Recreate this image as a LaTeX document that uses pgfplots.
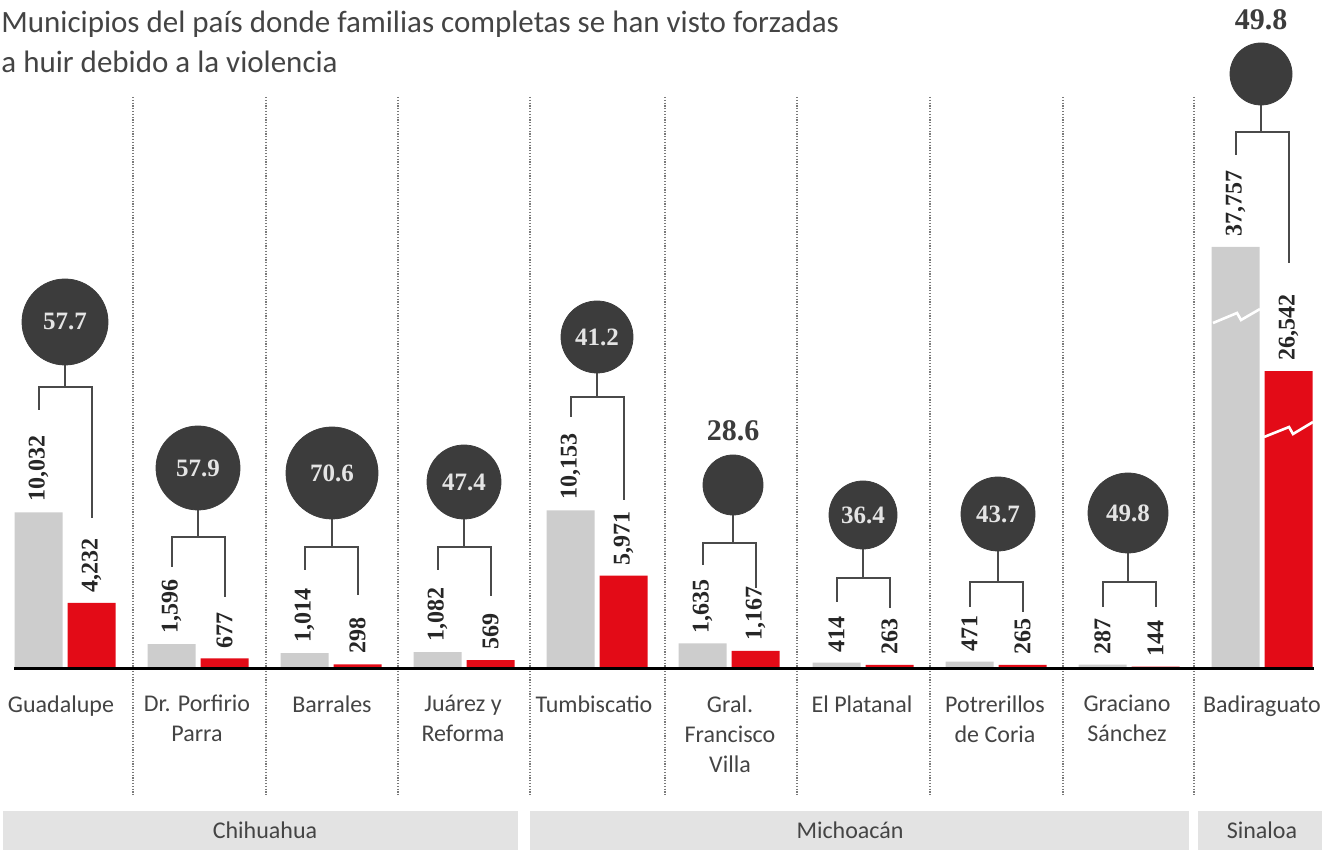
\documentclass[border=0pt]{standalone}
\usepackage{fontspec}
\usepackage{pgfplots}
\pgfplotsset{compat=1.18}
\usepackage{pgfplotstable}
\newfontfamily\carl{Carlito}
\newfontfamily\numf{Liberation Serif}
\definecolor{barGrey}{HTML}{CDCDCD}
\definecolor{barRed}{HTML}{E30B17}
\definecolor{circ}{HTML}{3C3C3C}
\definecolor{circtxt}{HTML}{E4E4E4}
\definecolor{band}{HTML}{E3E3E3}
\definecolor{brk}{HTML}{4A4A4A}
\definecolor{txt}{HTML}{444444}
\definecolor{sep}{HTML}{7A7A7A}

\pgfplotstableread{
xc   grey  red   gshow rshow
65   10032 4232  10032 4232
198  1596  677   1596  677
331  1014  298   1014  298
464  1082  569   1082  569
597  10153 5971  10153 5971
729  1635  1167  1635  1167
863  414   263   414   263
996  471   265   471   265
1129 287   144   287   144
1262 37757 26542 27008 19072
}\data

\pgfplotstableread{
cx   cy  r  pct  ly  out
65   322 43 57.7 322 0
198  468 42 57.9 468 0
332  473 46 70.6 473 0
464  482 37 47.4 482 0
597  337 36 41.2 337 0
733  485 30 28.6 431 1
863  515 34 36.4 515 0
998  514 37 43.7 514 0
1128 513 40 49.8 513 0
1261 74  31 49.8 20  1
}\pcts

\begin{document}
\begin{tikzpicture}
\begin{axis}[
  width=668pt, height=425pt, scale only axis,
  xmin=0, xmax=1336, ymin=-181, ymax=669,
  hide axis, clip=false,
]
% full frame for the bounding box
\path (rel axis cs:0,0) rectangle (rel axis cs:1,1);
% state bands
\fill[band] (axis cs:3,-142) rectangle (axis cs:518,-181);
\fill[band] (axis cs:530,-142) rectangle (axis cs:1189,-181);
\fill[band] (axis cs:1198,-142) rectangle (axis cs:1322,-181);
\node[font=\carl\fontsize{12}{14}\selectfont, text=txt, anchor=base] at (axis cs:265,-170) {Chihuahua};
\node[font=\carl\fontsize{12}{14}\selectfont, text=txt, anchor=base] at (axis cs:850,-170) {Michoacán};
\node[font=\carl\fontsize{12}{14}\selectfont, text=txt, anchor=base] at (axis cs:1262,-170) {Sinaloa};
% separators
\pgfplotsinvokeforeach{133,266,398,530,665,797,930,1063,1194}{
  \draw[sep, line width=0.8pt, dash pattern=on 0.6pt off 0.8pt] (axis cs:#1,572) -- (axis cs:#1,-126);
}
% title
\node[anchor=north west, inner sep=0pt, align=left, font=\carl\fontsize{15.5}{20}\selectfont, text=txt] at (axis cs:1,658)
  {Municipios del país donde familias completas se han visto forzadas\\a huir debido a la violencia};
% brackets
\begin{scope}[brk, line width=1pt]
\draw (axis cs:65,347) -- (axis cs:65,282);
\draw (axis cs:38.5,259) -- (axis cs:38.5,282) -- (axis cs:91.5,282) -- (axis cs:91.5,151);
\draw (axis cs:198,201) -- (axis cs:198,132);
\draw (axis cs:171.5,102) -- (axis cs:171.5,132) -- (axis cs:224.5,132) -- (axis cs:224.5,72);
\draw (axis cs:332,196) -- (axis cs:332,122);
\draw (axis cs:304.5,99) -- (axis cs:304.5,122) -- (axis cs:357.5,122) -- (axis cs:357.5,74);
\draw (axis cs:464,187) -- (axis cs:464,122);
\draw (axis cs:437.5,99) -- (axis cs:437.5,122) -- (axis cs:490.5,122) -- (axis cs:490.5,73);
\draw (axis cs:597,332) -- (axis cs:597,272);
\draw (axis cs:570.5,252) -- (axis cs:570.5,272) -- (axis cs:623.5,272) -- (axis cs:623.5,169);
\draw (axis cs:733,184) -- (axis cs:733,126);
\draw (axis cs:702.5,104) -- (axis cs:702.5,126) -- (axis cs:755.5,126) -- (axis cs:755.5,81);
\draw (axis cs:863,154) -- (axis cs:863,91);
\draw (axis cs:836.5,67) -- (axis cs:836.5,91) -- (axis cs:889.5,91) -- (axis cs:889.5,61);
\draw (axis cs:998,155) -- (axis cs:998,87);
\draw (axis cs:969.5,62) -- (axis cs:969.5,87) -- (axis cs:1022.5,87) -- (axis cs:1022.5,57);
\draw (axis cs:1128,156) -- (axis cs:1128,87);
\draw (axis cs:1102.5,62) -- (axis cs:1102.5,87) -- (axis cs:1155.5,87) -- (axis cs:1155.5,62);
\draw (axis cs:1261,595) -- (axis cs:1261,537);
\draw (axis cs:1235.5,514) -- (axis cs:1235.5,537) -- (axis cs:1288.5,537) -- (axis cs:1288.5,406);
\end{scope}
% bars
\addplot[ybar, bar width=48, bar shift=0pt, fill=barGrey, draw=none,
  point meta=\thisrow{grey},
  nodes near coords={\pgfmathprintnumber[assume math mode=true, 1000 sep={,}]{\pgfplotspointmeta}},
  nodes near coords style={rotate=90, anchor=west, inner xsep=5pt, inner ysep=0pt,
    font=\numf\bfseries\fontsize{12}{13}\selectfont, text=black!85}]
  table[x expr=\thisrow{xc}-26.5, y expr=\thisrow{gshow}/64]{\data};
\addplot[ybar, bar width=48, bar shift=0pt, fill=barRed, draw=none,
  point meta=\thisrow{red},
  nodes near coords={\pgfmathprintnumber[assume math mode=true, 1000 sep={,}]{\pgfplotspointmeta}},
  nodes near coords style={rotate=90, anchor=west, inner xsep=5pt, inner ysep=0pt,
    font=\numf\bfseries\fontsize{12}{13}\selectfont, text=black!85}]
  table[x expr=\thisrow{xc}+26.5, y expr=\thisrow{rshow}/64]{\data};
% break marks on Badiraguato
\draw[white, line width=1.3pt] (axis cs:1213,346) -- (axis cs:1237,356) -- (axis cs:1241,349) -- (axis cs:1260,360);
\draw[white, line width=1.3pt] (axis cs:1264,232) -- (axis cs:1289,242) -- (axis cs:1293,235) -- (axis cs:1313,247);
% baseline
\draw[black, line width=1.5pt] (axis cs:14,0) -- (axis cs:1314,0);
% circles
\addplot[scatter, only marks, mark=*,
  scatter/use mapped color={draw=circ, fill=circ},
  visualization depends on={\thisrow{r}/2 \as \rad},
  scatter/@pre marker code/.append style={/tikz/mark size=\rad}]
  table[x=cx, y expr=669-\thisrow{cy}]{\pcts};
% percentages inside circles
\addplot[draw=none, mark=none, restrict expr to domain={\thisrow{out}}{0:0},
  point meta=\thisrow{pct},
  nodes near coords={\pgfmathprintnumber[assume math mode=true, fixed, precision=1]{\pgfplotspointmeta}},
  nodes near coords style={anchor=center, inner sep=0pt, text=circtxt, font=\numf\bfseries\fontsize{12.5}{13}\selectfont}]
  table[x=cx, y expr=669-\thisrow{ly}]{\pcts};
% percentages above circles
\addplot[draw=none, mark=none, restrict expr to domain={\thisrow{out}}{1:1},
  point meta=\thisrow{pct},
  nodes near coords={\pgfmathprintnumber[assume math mode=true, fixed, precision=1]{\pgfplotspointmeta}},
  nodes near coords style={anchor=center, inner sep=0pt, text=circ, font=\numf\bfseries\fontsize{15}{16}\selectfont}]
  table[x=cx, y expr=669-\thisrow{ly}]{\pcts};
% municipality labels
\begin{scope}[every node/.style={anchor=north, inner sep=0pt, align=center, text=txt,
  font=\carl\fontsize{12}{15}\selectfont}]
\node at (axis cs:61,-26) {Guadalupe};
\node at (axis cs:197,-26) {Dr. Porfirio\\Parra};
\node at (axis cs:332,-26) {Barrales};
\node at (axis cs:463,-26) {Juárez y\\Reforma};
\node at (axis cs:594,-26) {Tumbiscatio};
\node at (axis cs:730,-26) {Gral.\\Francisco\\Villa};
\node at (axis cs:862,-26) {El Platanal};
\node at (axis cs:995,-26) {Potrerillos\\de Coria};
\node at (axis cs:1127,-26) {Graciano\\Sánchez};
\node at (axis cs:1262,-26) {Badiraguato};
\end{scope}
\end{axis}
\end{tikzpicture}
\end{document}
